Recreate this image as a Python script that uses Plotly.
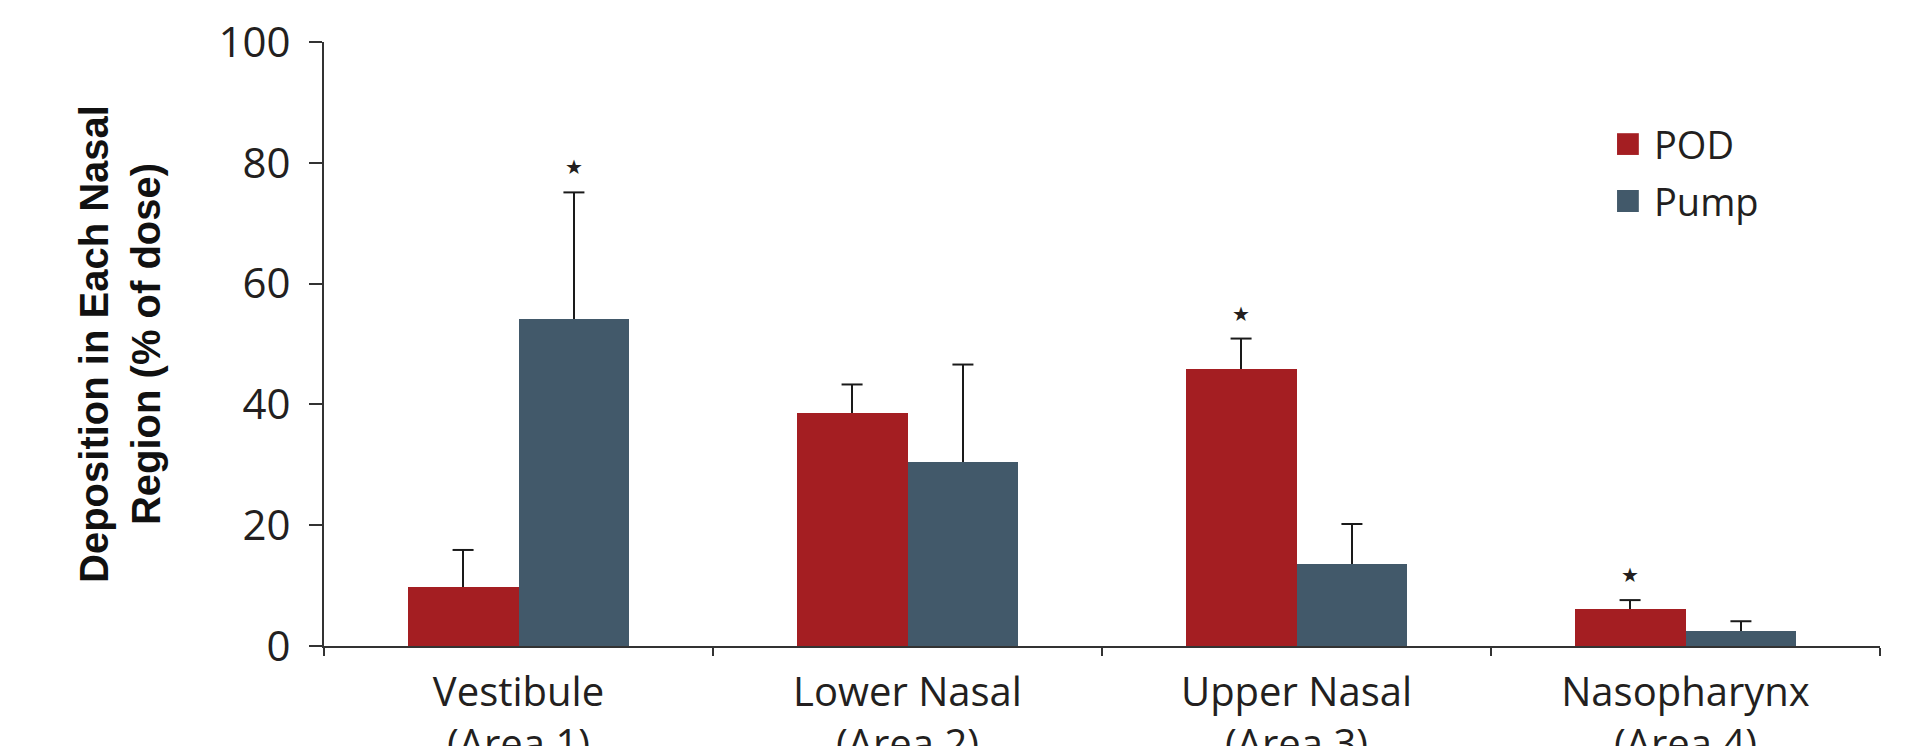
import numpy as np
import plotly.graph_objects as go

# Nasal deposition by region, mean with upper SD
categories = ["Vestibule<br>(Area 1)", "Lower Nasal<br>(Area 2)",
              "Upper Nasal<br>(Area 3)", "Nasopharynx<br>(Area 4)"]
pod_mean = [9.7, 38.5, 45.8, 6.2]
pod_err = [6.2, 4.8, 5.1, 1.4]
pump_mean = [54.1, 30.4, 13.5, 2.5]
pump_err = [21.0, 16.2, 6.7, 1.6]
pod_sig = [False, False, True, True]
pump_sig = [True, False, False, False]
y_ticks = [0, 20, 40, 60, 80, 100]

POD_COLOR = "#A41E22"
PUMP_COLOR = "#42596A"
INK = "#231F20"
AXIS = "#333333"
WHISKER = "#1A1A1A"
BAR_W = 0.285
LABEL_FONT = "Open Sans, Lato, sans-serif"

pos = np.arange(len(categories))
pod_x = pos - BAR_W / 2
pump_x = pos + BAR_W / 2

fig = go.Figure()
for name, xs, ys, es, color in [
    ("POD", pod_x, pod_mean, pod_err, POD_COLOR),
    ("Pump", pump_x, pump_mean, pump_err, PUMP_COLOR),
]:
    # bar with an upward-only whisker (no cap at the bar end)
    fig.add_trace(go.Bar(
        name=name, x=xs, y=ys, width=BAR_W,
        marker=dict(color=color, line=dict(width=0)),
        error_y=dict(type="data", symmetric=False, array=es,
                     arrayminus=[0] * len(es), color=WHISKER,
                     thickness=2, width=0),
        showlegend=False,
    ))
    # cap on top of each whisker
    fig.add_trace(go.Scatter(
        x=xs, y=np.array(ys) + np.array(es), mode="markers",
        marker=dict(symbol="line-ew", size=15,
                    line=dict(color=WHISKER, width=2)),
        showlegend=False, hoverinfo="skip",
    ))

# significance stars above the error caps
annotations = []
for xs, ys, es, sig in [(pod_x, pod_mean, pod_err, pod_sig),
                        (pump_x, pump_mean, pump_err, pump_sig)]:
    for xv, yv, ev, s in zip(xs, ys, es, sig):
        if s:
            annotations.append(dict(
                x=xv, y=yv + ev, xref="x", yref="y", text="★",
                showarrow=False, yshift=25,
                font=dict(family="DejaVu Sans", size=20, color=INK)))

# legend swatches and labels
shapes = []
for name, color, y0, y1, yc in [("POD", POD_COLOR, 0.813, 0.849, 0.831),
                                ("Pump", PUMP_COLOR, 0.7185, 0.755, 0.737)]:
    shapes.append(dict(type="rect", xref="paper", yref="paper",
                       x0=0.831, x1=0.845, y0=y0, y1=y1,
                       fillcolor=color, line=dict(width=0)))
    annotations.append(dict(x=0.8535, y=yc, xref="paper", yref="paper",
                            xanchor="left", yanchor="middle", text=name,
                            showarrow=False,
                            font=dict(family=LABEL_FONT, size=38, color=INK)))

fig.update_layout(
    width=1929, height=746,
    margin=dict(l=324, r=49, t=42, b=100),
    plot_bgcolor="white", paper_bgcolor="white",
    barmode="overlay", bargap=0,
    shapes=shapes, annotations=annotations,
    font=dict(family=LABEL_FONT, color=INK),
)
fig.update_xaxes(
    range=[-0.5, len(categories) - 0.5],
    tickmode="array", tickvals=pos, ticktext=categories,
    ticks="", showgrid=False, zeroline=False,
    showline=True, linecolor=AXIS, linewidth=2,
    tickfont=dict(family=LABEL_FONT, size=40, color=INK),
    ticklabelstandoff=10,
    minor=dict(tickmode="array",
               tickvals=list(np.arange(-0.5, len(categories), 1.0)),
               ticks="outside", ticklen=8, tickwidth=2, tickcolor=AXIS,
               showgrid=False),
    automargin=False,
)
fig.update_yaxes(
    range=[0, 100], tickmode="array", tickvals=y_ticks,
    ticks="outside", ticklen=13, tickwidth=2, tickcolor=AXIS,
    showgrid=False, zeroline=False,
    showline=True, linecolor=AXIS, linewidth=2,
    tickfont=dict(family=LABEL_FONT, size=42, color=INK),
    ticklabelstandoff=10,
    title=dict(text="Deposition in Each Nasal<br>Region (% of dose)",
               font=dict(family="Liberation Sans, Arial, sans-serif",
                         size=40, color="#111111", weight="bold"),
               standoff=46),
    automargin=False,
)

fig.write_html("out.html")
